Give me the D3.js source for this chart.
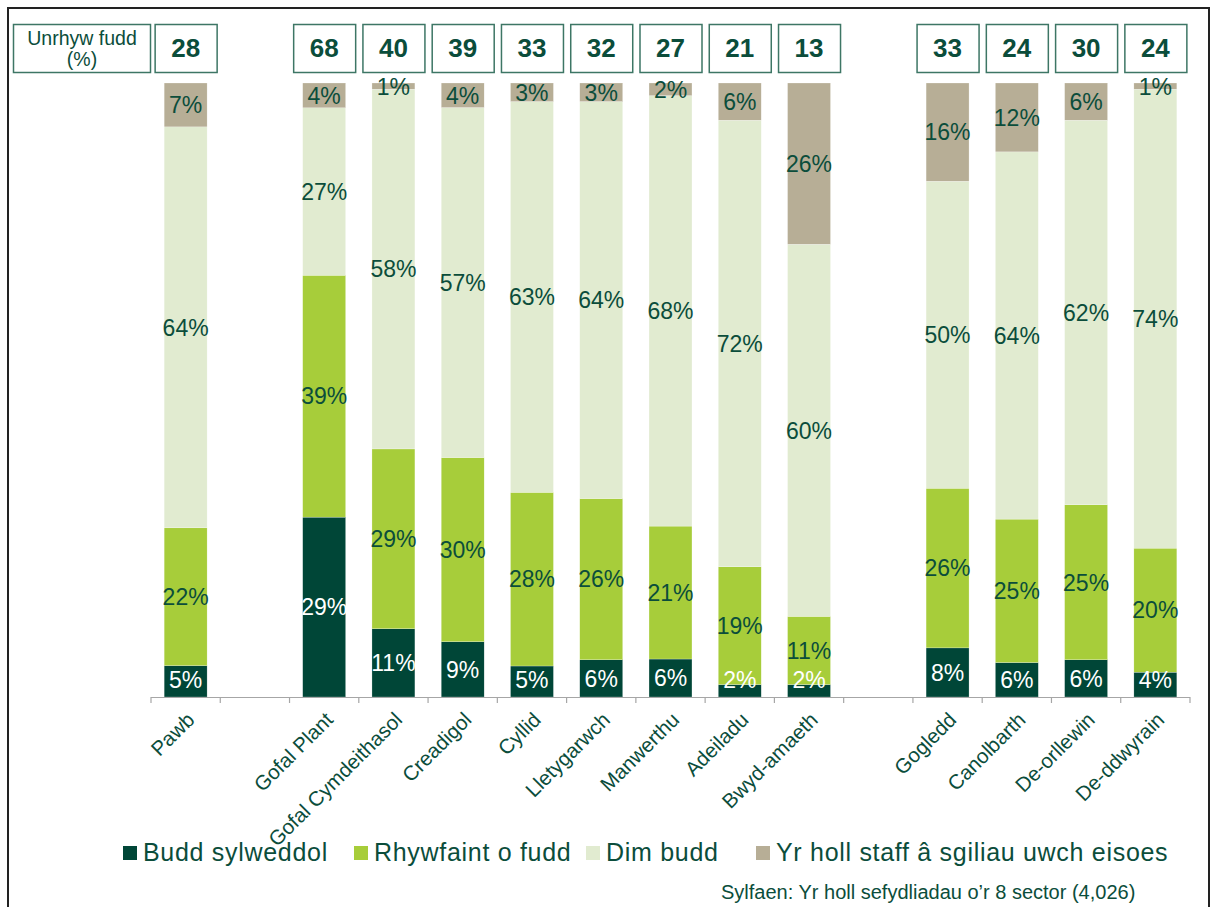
<!DOCTYPE html>
<html>
<head>
<meta charset="utf-8">
<script src="https://cdn.jsdelivr.net/npm/d3@7"></script>
<style>
  html, body { margin: 0; padding: 0; background: #fff; }
  svg { display: block; font-family: "Liberation Sans", Arial, sans-serif; }
</style>
</head>
<body>
<svg id="chart" width="1211" height="907"></svg>
<script>
// ---- data ----
const categories = ["Pawb", "", "Gofal Plant", "Gofal Cymdeithasol", "Creadigol", "Cyllid", "Lletygarwch", "Manwerthu", "Adeiladu", "Bwyd-amaeth", "", "Gogledd", "Canolbarth", "De-orllewin", "De-ddwyrain"];
const buddSylweddol = [5, null, 29, 11, 9, 5, 6, 6, 2, 2, null, 8, 6, 6, 4];
const rhywfaintOFudd = [22, null, 39, 29, 30, 28, 26, 21, 19, 11, null, 26, 25, 25, 20];
const dimBudd = [64, null, 27, 58, 57, 63, 64, 68, 72, 60, null, 50, 64, 62, 74];
const hollStaff = [7, null, 4, 1, 4, 3, 3, 2, 6, 26, null, 16, 12, 6, 1];
const unrhywFudd = [28, null, 68, 40, 39, 33, 32, 27, 21, 13, null, 33, 24, 30, 24];
const seriesNames = ["Budd sylweddol", "Rhywfaint o fudd", "Dim budd", "Yr holl staff â sgiliau uwch eisoes"];
const seriesColors = ["#004637", "#a7cd3a", "#e1ebd0", "#b7ae96"];
const labelColors = ["#ffffff", "#0b4d3b", "#0b4d3b", "#0b4d3b"];
const headerLabel = ["Unrhyw fudd", "(%)"];
const sourceText = "Sylfaen: Yr holl sefydliadau o’r 8 sector (4,026)";

const textColor = "#0b4d3b";
const boxStroke = "#3d7665";

const svg = d3.select("#chart");

// outer border
svg.append("rect").attr("x", 8).attr("y", 8).attr("width", 1201).attr("height", 920)
  .attr("fill", "none").attr("stroke", "#222").attr("stroke-width", 2);

const plot = { left: 151, right: 1190, top: 83, bottom: 697 };

const idx = d3.range(categories.length);
const x = d3.scaleBand().domain(idx).range([plot.left, plot.right]).paddingInner(0.38).paddingOuter(0.19);
const y = d3.scaleLinear().domain([0, 1]).range([plot.bottom, plot.top]);

const rows = idx.map(i => ({ i, s0: buddSylweddol[i], s1: rhywfaintOFudd[i], s2: dimBudd[i], s3: hollStaff[i] }))
  .filter(d => d.s0 !== null);
const keys = ["s0", "s1", "s2", "s3"];
const stacked = d3.stack().keys(keys).offset(d3.stackOffsetExpand)(rows);

// bars
const barsG = svg.append("g");
stacked.forEach((layer, k) => {
  barsG.append("g").selectAll("rect").data(layer).join("rect")
    .attr("x", d => x(d.data.i))
    .attr("width", x.bandwidth())
    .attr("y", d => y(d[1]))
    .attr("height", d => y(d[0]) - y(d[1]))
    .attr("fill", seriesColors[k])
    .attr("stroke", "#ffffff").attr("stroke-width", 0.4).attr("stroke-opacity", 0.6);
});
// labels on top of all bars
const labG = svg.append("g");
stacked.forEach((layer, k) => {
  labG.append("g").selectAll("text").data(layer).join("text")
    .attr("x", d => x(d.data.i) + x.bandwidth() / 2)
    .attr("y", d => {
      const c = (y(d[0]) + y(d[1])) / 2;
      return Math.max(plot.top + 4, Math.min(plot.bottom - 17, c));
    })
    .attr("dy", "0.36em")
    .attr("text-anchor", "middle")
    .attr("font-size", 23)
    .attr("fill", labelColors[k])
    .text(d => d.data[keys[k]] + "%");
});

// x axis: line + ticks at category boundaries
const axisG = svg.append("g").attr("transform", `translate(0,${plot.bottom})`);
axisG.append("line").attr("x1", plot.left).attr("x2", plot.right).attr("y1", 0.5).attr("y2", 0.5)
  .attr("stroke", "#a6a6a6").attr("stroke-width", 1.2);
const bounds = d3.range(categories.length + 1).map(i => plot.left + i * x.step());
axisG.selectAll("line.tick").data(bounds).join("line").attr("class", "tick")
  .attr("x1", d => d).attr("x2", d => d).attr("y1", 0).attr("y2", 6)
  .attr("stroke", "#a6a6a6").attr("stroke-width", 1.2);

// category labels (rotated) via axis generator
const labelAxis = d3.axisBottom(x).tickSize(0).tickFormat(i => categories[i]);
const la = svg.append("g").attr("transform", `translate(0,${plot.bottom})`).call(labelAxis);
la.select(".domain").remove();
la.selectAll("text")
  .attr("font-family", "'Liberation Sans', Arial, sans-serif")
  .attr("font-size", 20.5)
  .attr("fill", textColor)
  .attr("text-anchor", "end")
  .attr("x", 0).attr("y", 0).attr("dy", "0.35em")
  .attr("transform", "translate(5,19) rotate(-45)");

// header boxes
const boxTop = 24, boxH = 48, boxW = 62;
svg.append("rect").attr("x", 13.5).attr("y", boxTop + 0.5).attr("width", 137).attr("height", boxH)
  .attr("fill", "#fff").attr("stroke", boxStroke).attr("stroke-width", 1.5);
svg.append("text").attr("x", 82).attr("y", 45).attr("text-anchor", "middle").attr("font-size", 19.5)
  .attr("fill", textColor).text(headerLabel[0]);
svg.append("text").attr("x", 82).attr("y", 66).attr("text-anchor", "middle").attr("font-size", 19.5)
  .attr("fill", textColor).text(headerLabel[1]);

const hdr = idx.filter(i => unrhywFudd[i] !== null);
const hg = svg.append("g");
hg.selectAll("rect").data(hdr).join("rect")
  .attr("x", i => x(i) + x.bandwidth() / 2 - boxW / 2 + 0.5)
  .attr("y", boxTop + 0.5).attr("width", boxW).attr("height", boxH)
  .attr("fill", "#fff").attr("stroke", boxStroke).attr("stroke-width", 1.5);
hg.selectAll("text").data(hdr).join("text")
  .attr("x", i => x(i) + x.bandwidth() / 2)
  .attr("y", boxTop + boxH / 2).attr("dy", "0.36em")
  .attr("text-anchor", "middle").attr("font-size", 26).attr("font-weight", "bold")
  .attr("fill", textColor).text(i => unrhywFudd[i]);

// legend
const legendX = [123, 354, 586, 756];
const lg = svg.append("g");
seriesNames.forEach((name, k) => {
  lg.append("rect").attr("x", legendX[k]).attr("y", 846).attr("width", 14).attr("height", 14)
    .attr("fill", seriesColors[k]);
  lg.append("text").attr("x", legendX[k] + 20).attr("y", 861).attr("font-size", 25)
    .attr("letter-spacing", 0.7)
    .attr("fill", textColor).text(name);
});

// source
svg.append("text").attr("x", 721).attr("y", 899).attr("font-size", 20).attr("fill", textColor).text(sourceText);
</script>
</body>
</html>
